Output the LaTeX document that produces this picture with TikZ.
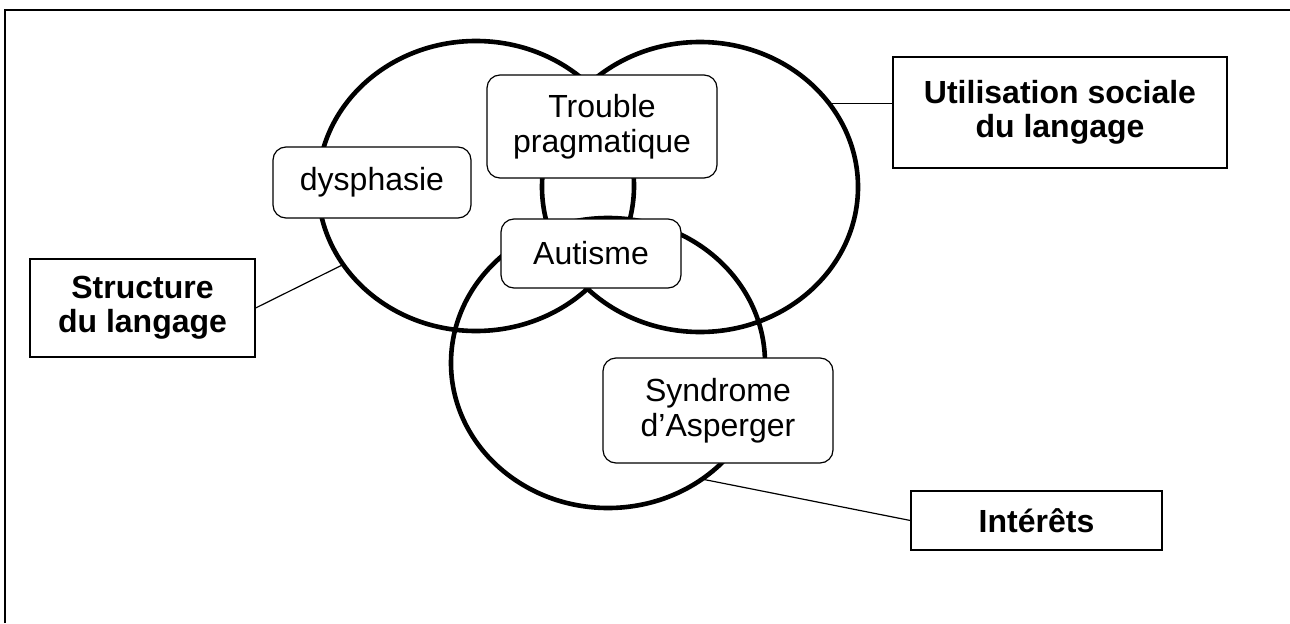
\documentclass[tikz,border=0pt]{standalone}
\usepackage{fontspec}
\setmainfont{Liberation Sans}
\usetikzlibrary{calc}
\begin{document}
\begin{tikzpicture}[x=0.5pt,y=0.5pt,
  ring/.style={line width=2.3pt},
  softbox/.style={draw, line width=0.6pt, fill=white, rounded corners=6.5pt, align=center, inner sep=0pt, font=\fontsize{16}{17.5}\selectfont},
  hardbox/.style={draw, line width=0.6pt, fill=white, align=center, inner sep=0pt, font=\fontsize{16}{17.2}\selectfont\bfseries},
  link/.style={line width=0.6pt}]
\useasboundingbox (0,0) rectangle (1290,623);
% frame
\draw[line width=0.7pt] (5,0) -- (5,613) -- (1290,613);
% ellipses
\coordinate (c1) at (476,437);
\coordinate (c2) at (700,436);
\coordinate (c3) at (608,260);
\draw[ring] (c1) ellipse [x radius=158, y radius=145];
\draw[ring] (c2) ellipse [x radius=158, y radius=145];
\draw[ring] (c3) ellipse [x radius=157, y radius=145];
\coordinate (p1) at ($(c1)+(212.8:158 and 145)$);
\coordinate (p2) at ($(c2)+(35.1:158 and 145)$);
\coordinate (p3) at ($(c3)+(-53.2:157 and 145)$);
% rounded boxes
\node[softbox, minimum width=99pt, minimum height=35.5pt] (dys) at (372,440.5) {dysphasie};
\node[softbox, minimum width=115pt, minimum height=51.5pt] (trouble) at (602,496.5) {Trouble\\pragmatique};
\node[softbox, minimum width=90pt, minimum height=34.5pt] (aut) at (591,369.5) {Autisme};
\node[softbox, minimum width=115pt, minimum height=52.5pt] (asp) at (718,212.5) {Syndrome\\d’Asperger};
% label boxes
\node[hardbox, minimum width=167pt, minimum height=55.5pt] (util) at (1060,510.5) {Utilisation sociale\\du langage};
\node[hardbox, minimum width=112.5pt, minimum height=49pt] (struct) at (142.5,315) {Structure\\du langage};
\node[hardbox, minimum width=125.5pt, minimum height=29.5pt] (int) at (1036.5,102.5) {Intérêts};
% connectors
\draw[link] (struct.east) -- (p1);
\draw[link] (p2) -- (util.west |- p2);
\draw[link] (p3) -- (int.west);
\end{tikzpicture}
\end{document}
